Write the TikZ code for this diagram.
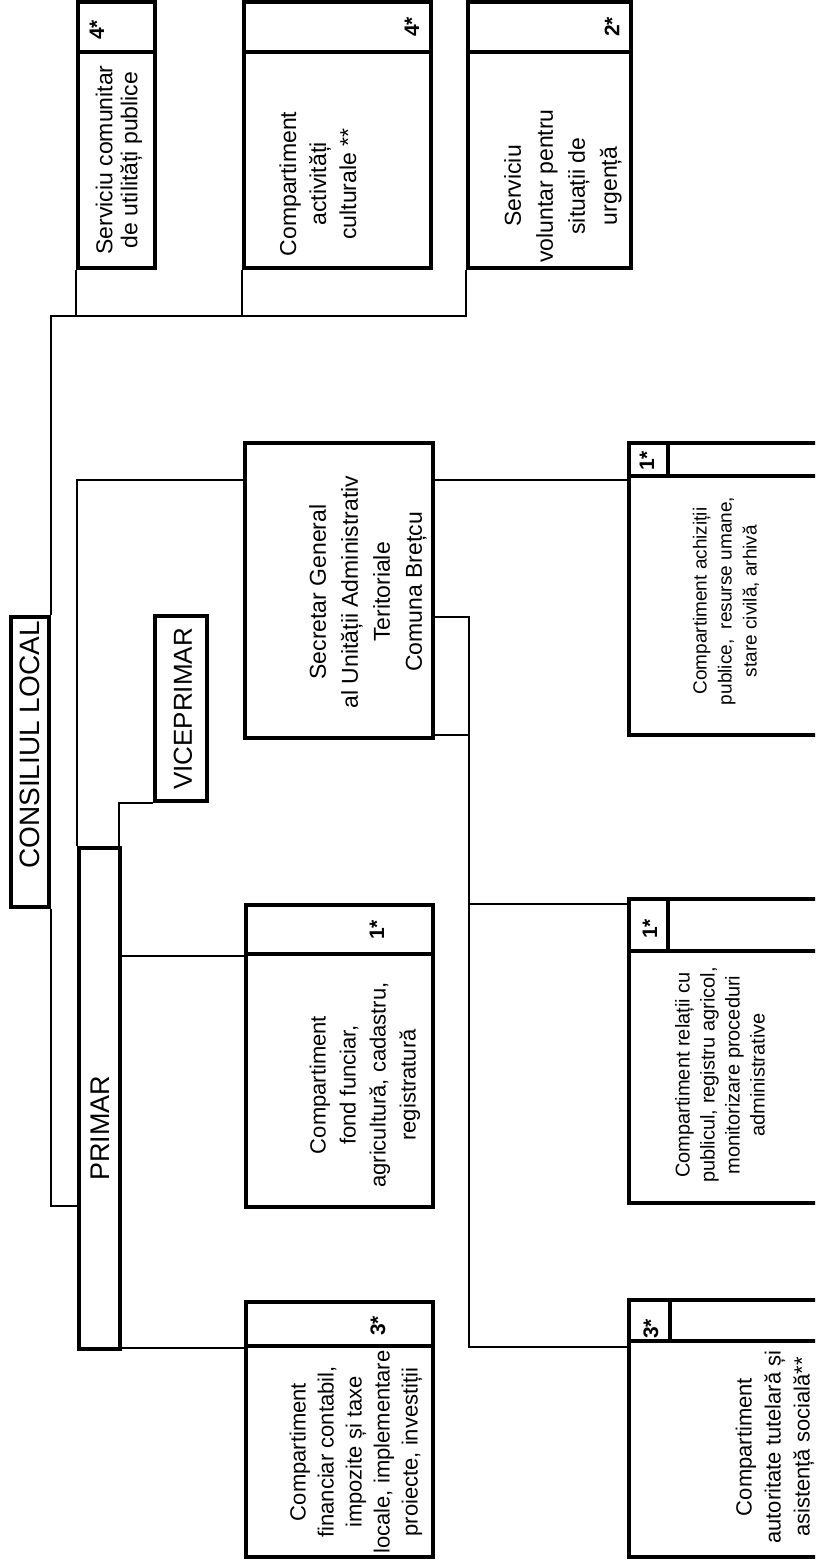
\documentclass[tikz,border=0pt]{standalone}
\usepackage{fontspec}
\setmainfont{Liberation Sans}
\newcommand{\fsz}[2]{\fontsize{#1}{#2}\selectfont}

\begin{document}
\begin{tikzpicture}[x=1pt, y=-1pt,
  box/.style={draw, line width=4pt, inner sep=0pt},
  link/.style={line width=1.6pt},
  sep/.style={line width=3.5pt},
  txt/.style={rotate=90, align=center, inner sep=0pt},
  nr/.style={rotate=90, inner sep=0pt, font=\fsz{21}{21}\bfseries}]

\useasboundingbox (0,0) rectangle (815,1561);
\fill [white] (0,0) rectangle (815,1561);
\clip (0,0) rectangle (815,1561);

% junction points of the connectors
\coordinate (busT) at (48,316);
\coordinate (busR) at (469,617);
\coordinate (hdrT) at (0,52);
\coordinate (primJ) at (0,1206);
\coordinate (secrJ) at (0,480);
\coordinate (secrK) at (0,735);
\coordinate (fondJ) at (0,956);
\coordinate (finJ) at (0,1348);
\coordinate (relJ) at (0,904);
\coordinate (autoJ) at (0,1347);

% boxes
\node [box, minimum width=77, minimum height=266] (sutil) at (116.5,135) {};
\node [box, minimum width=187, minimum height=266] (scult) at (337.5,135) {};
\node [box, minimum width=163, minimum height=266] (svol) at (549.5,135) {};
\node [box, minimum width=38, minimum height=290] (cons) at (30,762) {};
\node [box, minimum width=41, minimum height=501] (primar) at (99.5,1098.5) {};
\node [box, minimum width=52, minimum height=185] (vice) at (181,708.5) {};
\node [box, minimum width=188, minimum height=295] (secr) at (339,590.5) {};
\node [box, minimum width=187, minimum height=302] (fond) at (339.5,1056) {};
\node [box, minimum width=187, minimum height=255] (fin) at (339.5,1429.5) {};
\node [box, minimum width=211, minimum height=292] (ach) at (734.5,589) {};
\node [box, minimum width=211, minimum height=304] (rel) at (734.5,1051) {};
\node [box, minimum width=211, minimum height=257] (auto) at (734.5,1428.5) {};

% header rows
\foreach \b in {sutil,scult,svol}
  \draw [sep] (\b.west |- hdrT) -- (\b.east |- hdrT);
\draw [sep] ([yshift=-51pt]fond.north west) -- ([yshift=-51pt]fond.north east);
\draw [sep] ([yshift=-46pt]fin.north west) -- ([yshift=-46pt]fin.north east);
\draw [sep] ([yshift=-35pt]ach.north west) -- ([yshift=-35pt]ach.north east);
\draw [sep] ([yshift=-54pt]rel.north west) -- ([yshift=-54pt]rel.north east);
\draw [sep] ([yshift=-43pt]auto.north west) -- ([yshift=-43pt]auto.north east);
\draw [sep] ([xshift=41pt]ach.north west) -- ([xshift=41pt,yshift=-35pt]ach.north west);
\draw [sep] ([xshift=41pt]rel.north west) -- ([xshift=41pt,yshift=-54pt]rel.north west);
\draw [sep] ([xshift=43pt]auto.north west) -- ([xshift=43pt,yshift=-43pt]auto.north west);

% numbers of posts
\node [nr] (sutilN) at (97,30) {4*};
\node [nr] (scultN) at (412,27) {4*};
\node [nr] (svolN) at (612,27) {2*};
\node [nr] (fondN) at (377,930) {1*};
\node [nr] (finN) at (378,1326) {3*};
\node [nr] (achN) at (647,461) {1*};
\node [nr] (relN) at (650,929) {1*};
\node [nr] (autoN) at (651,1329) {3*};

% texts
\node [txt, font=\fsz{28}{28}] (consT) at (30,745) {CONSILIUL LOCAL};
\node [txt, font=\fsz{27}{27}] (primarT) at (100,1128) {PRIMAR};
\node [txt, font=\fsz{26}{26}] (viceT) at (183,709) {VICEPRIMAR};
\node [txt, font=\fsz{23}{25}] (sutilT) at (119,160) {Serviciu comunitar\\de utilități publice};
\node [txt, font=\fsz{23}{30}] (scultT) at (318,184) {Compartiment\\activități\\culturale **};
\node [txt, font=\fsz{23}{32}] (svolT) at (563,186) {Serviciu\\voluntar pentru\\situații de\\urgență};
\node [txt, font=\fsz{23}{32}] (secrT) at (368,592) {Secretar General\\al Unității Administrativ\\Teritoriale\\Comuna Brețcu};
\node [txt, font=\fsz{22}{30}] (fondT) at (365,1085) {Compartiment\\fond funciar,\\agricultură, cadastru,\\registratură};
\node [txt, font=\fsz{22}{28}] (finT) at (356,1452) {Compartiment\\financiar contabil,\\impozite și taxe\\locale, implementare\\proiecte, investiții};
\node [txt, font=\fsz{19}{25}] (achT) at (726,601) {Compartiment achiziții\\publice,~ resurse umane,\\stare civilă, arhivă};
\node [txt, font=\fsz{20}{25}] (relT) at (720,1075) {Compartiment relații cu\\publicul, registru agricol,\\monitorizare proceduri\\administrative};
\node [txt, font=\fsz{22}{29}] (autoT) at (775,1447) {Compartiment\\autoritate tutelară și\\asistență socială**};

% connectors
\draw [link] (cons.north east) -- (cons.north east |- busT) -| (svol.south west);
\draw [link] (sutil.south west) -- (sutil.south west |- busT);
\draw [link] (scult.south west) -- (scult.south west |- busT);
\draw [link] (cons.south east) |- (primar.west |- primJ);
\draw [link] (primar.north west) |- (secr.west |- secrJ);
\draw [link] ([xshift=-3pt]primar.north east) |- (vice.south west);
\draw [link] (primar.east |- fondJ) -- (fond.west |- fondJ);
\draw [link] (primar.east |- finJ) -- (fin.west |- finJ);
\draw [link] (secr.east |- secrJ) -- (ach.west |- secrJ);
\draw [link] (secr.east |- busR) -- (busR) -- (busR |- autoJ) -- (auto.west |- autoJ);
\draw [link] (secr.east |- secrK) -- (busR |- secrK);
\draw [link] (busR |- relJ) -- (rel.west |- relJ);
\end{tikzpicture}
\end{document}
